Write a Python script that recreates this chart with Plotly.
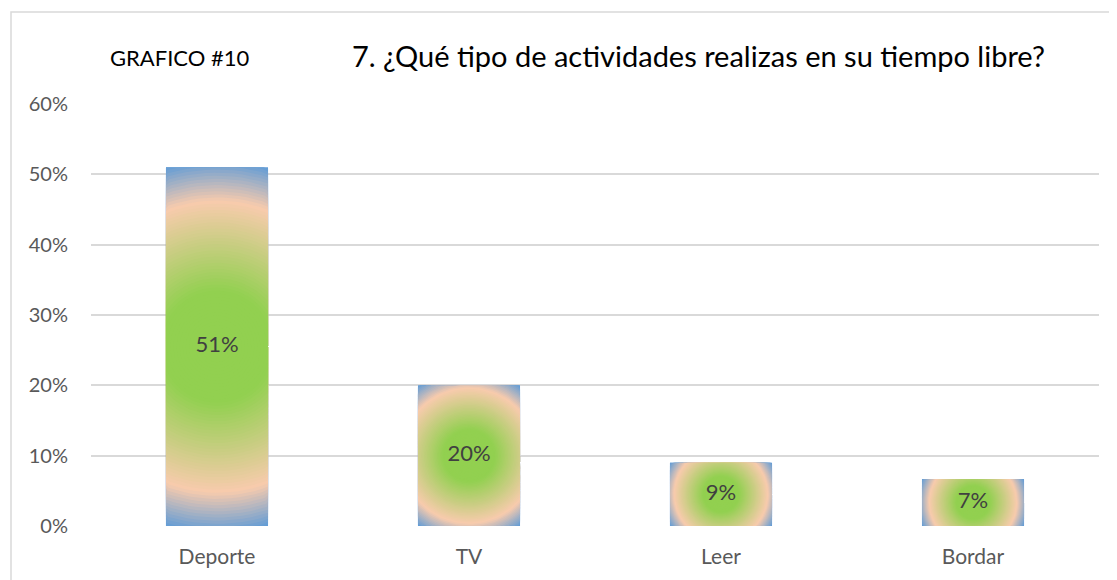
import numpy as np
import plotly.graph_objects as go

categories = ["Deporte", "TV", "Leer", "Bordar"]
values = [0.51, 0.20, 0.09, 0.067]
value_labels = ["51%", "20%", "9%", "7%"]
y_tickvals = [0, 0.1, 0.2, 0.3, 0.4, 0.5, 0.6]
y_ticktext = ["0%", "10%", "20%", "30%", "40%", "50%", "60%"]
small_title = "GRAFICO #10"
main_title = "7. ¿Qué tipo de actividades realizas en su tiempo libre?"

# the page body adds an 8px offset; work in reference pixels minus that offset
OFF = 8
W, H = 1117 - OFF, 580 - OFF
ML, MT = 91 - OFF, 104 - OFF
MR, MB = 18, 54
PW = W - ML - MR
PH = H - MT - MB
YMAX = 0.6
BAR_W = 0.405
px_per_x = PW / len(categories)
px_per_y = PH / YMAX

FONT = "Lato"


def paper_x(px):
    return (px - OFF - ML) / PW


def paper_y(py):
    return (H - MB - (py - OFF)) / PH


green = np.array([0x92, 0xD0, 0x50], float)
peach = np.array([0xF8, 0xCB, 0xAD], float)
blue = np.array([0x62, 0x9C, 0xD6], float)
stops = [(0.0, green), (0.3, green), (0.78, peach), (1.0, blue)]


def grad(t):
    t = min(max(t, 0.0), 1.0)
    for (t0, c0), (t1, c1) in zip(stops[:-1], stops[1:]):
        if t <= t1:
            f = 0 if t1 == t0 else (t - t0) / (t1 - t0)
            c = c0 + (c1 - c0) * f
            return "rgb(%d,%d,%d)" % tuple(np.round(c))
    return "rgb(%d,%d,%d)" % tuple(stops[-1][1])


xs = np.arange(len(categories))
fig = go.Figure()
fig.add_trace(go.Bar(x=xs, y=values, width=BAR_W, marker=dict(color=grad(1.0), line=dict(width=0)),
                     hoverinfo="skip", showlegend=False))

theta = np.linspace(0, 2 * np.pi, 120)
N = 60
levels = np.linspace(1.0, 0.0, N + 1)[:-1]
step = 1.0 / N
for t in levels:
    px_all, py_all = [], []
    for xi, v in zip(xs, values):
        hw_px = BAR_W * px_per_x / 2
        hh_px = v * px_per_y / 2
        R = np.hypot(hw_px, hh_px) * t
        cx, cy = xi, v / 2
        ex = cx + R / px_per_x * np.cos(theta)
        ey = cy + R / px_per_y * np.sin(theta)
        ex = np.clip(ex, xi - BAR_W / 2, xi + BAR_W / 2)
        ey = np.clip(ey, 0, v)
        px_all += list(ex) + [None]
        py_all += list(ey) + [None]
    fig.add_trace(go.Scatter(x=px_all, y=py_all, mode="lines", fill="toself",
                             fillcolor=grad(t - step / 2), line=dict(width=0),
                             hoverinfo="skip", showlegend=False))

fig.add_trace(go.Scatter(x=xs, y=[v / 2 for v in values], mode="text", text=value_labels,
                         textfont=dict(family=FONT, size=22, color="#404040"),
                         hoverinfo="skip", showlegend=False))

fig.update_layout(
    width=W, height=H,
    margin=dict(l=ML, r=MR, t=MT, b=MB),
    paper_bgcolor="white", plot_bgcolor="white",
    font=dict(family=FONT, color="#595959"),
    xaxis=dict(range=[-0.5, len(categories) - 0.5], tickvals=list(xs), ticktext=categories,
               showgrid=False, zeroline=False, showline=False, ticks="",
               tickfont=dict(size=21, color="#595959"), ticklabelstandoff=16, fixedrange=True),
    yaxis=dict(range=[0, YMAX], tickvals=y_tickvals, ticktext=y_ticktext,
               showgrid=True, gridcolor="#D9D9D9", gridwidth=1.6, zeroline=False,
               showline=False, ticks="", tickfont=dict(size=20, color="#595959"),
               ticklabelstandoff=22, fixedrange=True),
    shapes=[dict(type="rect", xref="paper", yref="paper",
                 x0=paper_x(11), x1=paper_x(1125),
                 y0=paper_y(590), y1=paper_y(12),
                 line=dict(color="#D9D9D9", width=1.5), fillcolor="rgba(0,0,0,0)", layer="below")],
    annotations=[
        dict(text=small_title, xref="paper", yref="paper", x=paper_x(108), y=paper_y(57),
             xanchor="left", yanchor="middle", showarrow=False,
             font=dict(family=FONT, size=22, color="#000000")),
        dict(text=main_title, xref="paper", yref="paper", x=paper_x(350), y=paper_y(55),
             xanchor="left", yanchor="middle", showarrow=False,
             font=dict(family=FONT, size=29, color="#000000")),
    ],
)

fig.write_html("out.html", config={"displayModeBar": False})
